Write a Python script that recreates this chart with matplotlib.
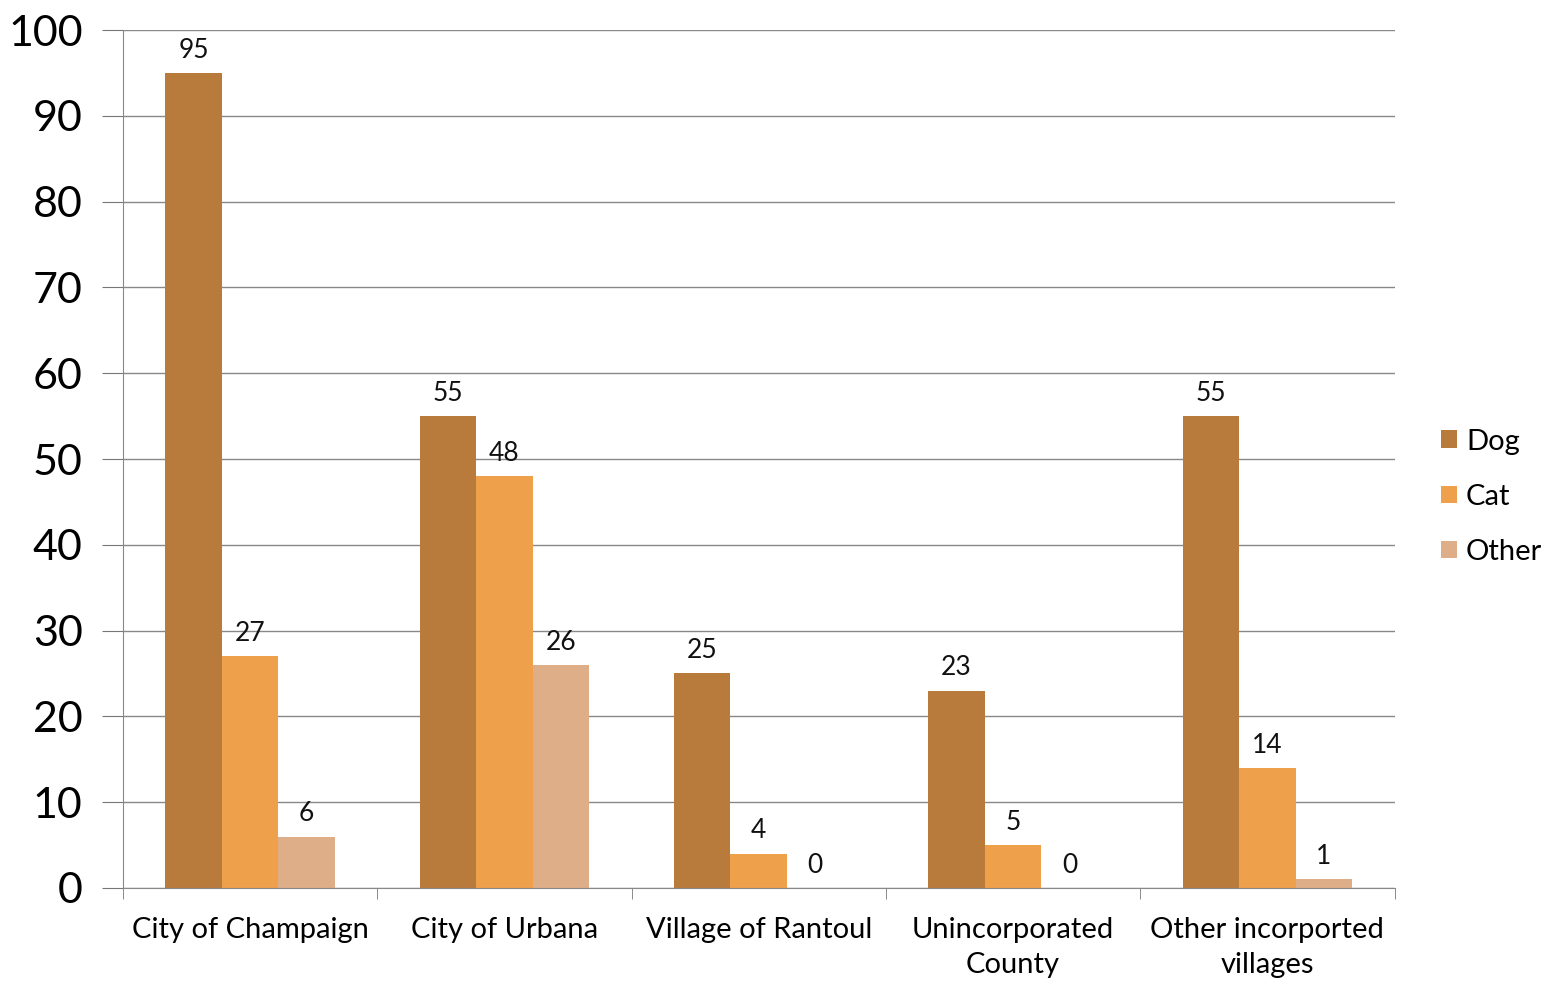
import matplotlib.pyplot as plt
import numpy as np

# data
categories = ['City of Champaign', 'City of Urbana', 'Village of Rantoul',
              'Unincorporated\nCounty', 'Other incorported\nvillages']
dog = [95, 55, 25, 23, 55]
cat = [27, 48, 4, 5, 14]
other = [6, 26, 0, 0, 1]

series = [('Dog', dog, '#B97B3C'), ('Cat', cat, '#EFA04A'), ('Other', other, '#DDAE88')]

plt.rcParams['font.family'] = ['Lato', 'DejaVu Sans']

fig = plt.figure(figsize=(15.66, 9.85), dpi=100)
ax = fig.add_axes([0.0785, 0.0985, 0.812, 0.871])

x = np.arange(len(categories))
w = 0.222
for i, (name, vals, col) in enumerate(series):
    pos = x + (i - 1) * w
    ax.bar(pos, vals, width=w, color=col, label=name, zorder=2)
    for p, v in zip(pos, vals):
        ax.text(p, v + 1.2, str(v), ha='center', va='bottom', fontsize=19, color='#111111')

ax.set_xlim(-0.5, len(categories) - 0.5)
ax.set_ylim(0, 100)
ax.set_yticks(range(0, 101, 10))
ax.tick_params(axis='y', labelsize=31, length=15, color='#777777', pad=14)
ax.yaxis.grid(True, color='#888888', linewidth=1.0, zorder=0)

# category labels between boundary ticks
ax.set_xticks(x)
ax.set_xticklabels(categories, fontsize=21, linespacing=1.4)
ax.tick_params(axis='x', length=0, pad=21)
ax.set_xticks(np.arange(-0.5, len(categories), 1), minor=True)
ax.tick_params(axis='x', which='minor', length=8, color='#777777')

for s in ['top', 'right']:
    ax.spines[s].set_visible(False)
ax.spines['left'].set_color('#888888')
ax.spines['bottom'].set_color('#888888')

ax.legend(loc='center left', bbox_to_anchor=(1.016, 0.456), frameon=False,
          fontsize=21, handlelength=0.55, handleheight=0.55, handletextpad=0.3,
          labelspacing=1.0)

fig.savefig('out.png', dpi=100)
